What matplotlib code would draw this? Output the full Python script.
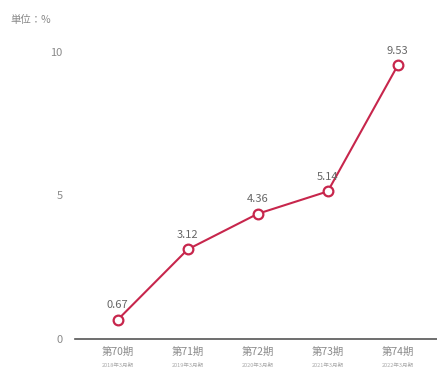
import matplotlib
matplotlib.use("Agg")
import matplotlib.pyplot as plt

plt.rcParams['font.family'] = ['Noto Sans CJK JP', 'DejaVu Sans']

periods = ["第70期", "第71期", "第72期", "第73期", "第74期"]
subperiods = ["2018年3月期", "2019年3月期", "2020年3月期", "2021年3月期", "2022年3月期"]
values = [0.67, 3.12, 4.36, 5.14, 9.53]
yticks = [0, 5, 10]
unit_label = "単位：%"

line_color = "#c7264c"
text_gray = "#8a8a8a"

fig = plt.figure(figsize=(4.37, 3.78), dpi=100)
W, H = 437, 378
ax = fig.add_axes([75 / W, 39 / H, (437 - 75) / W, (339 - 36) / H])

x = list(range(len(values)))
ax.plot(x, values, color=line_color, lw=1.5, marker='o', ms=7,
        markerfacecolor='white', markeredgecolor=line_color, markeredgewidth=1.6, zorder=3)
for xi, v in zip(x, values):
    ax.annotate(f"{v:.2f}", (xi, v), xytext=(0, 7), textcoords='offset points',
                ha='center', va='bottom', fontsize=8, color="#666666")

ax.set_xlim(-0.61, 4.56)
ax.set_ylim(0, 10.55)
ax.set_yticks(yticks)
ax.set_yticklabels([str(t) for t in yticks], fontsize=8, color=text_gray)
ax.tick_params(axis='y', length=0, pad=9)
ax.set_xticks(x)
ax.set_xticklabels([""] * len(x))
ax.tick_params(axis='x', length=0)
for side in ['top', 'right', 'left']:
    ax.spines[side].set_visible(False)
ax.spines['bottom'].set_color("#555555")
ax.spines['bottom'].set_linewidth(1.2)

for xi, p, s in zip(x, periods, subperiods):
    ax.annotate(p, (xi, 0), xycoords=('data', 'axes fraction'), xytext=(0, -6),
                textcoords='offset points', ha='center', va='top', fontsize=7.5, color=text_gray)
    ax.annotate(s, (xi, 0), xycoords=('data', 'axes fraction'), xytext=(0, -17),
                textcoords='offset points', ha='center', va='top', fontsize=4, color="#aaaaaa")

fig.text(10 / W, 1 - 20 / H, unit_label, fontsize=7.5, color=text_gray, va='center', ha='left')

fig.savefig("out.png", dpi=100)
